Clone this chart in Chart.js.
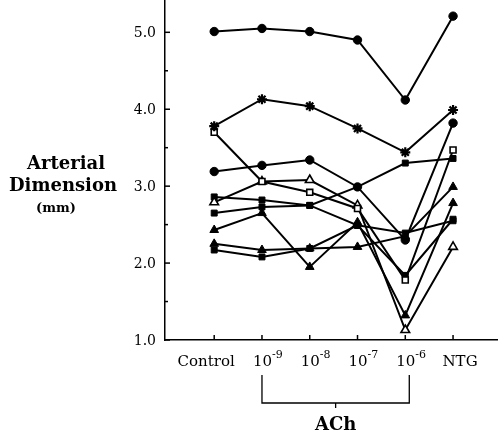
<!DOCTYPE html>
<html>
<head>
<meta charset="utf-8">
<script src="https://cdn.jsdelivr.net/npm/chart.js@4.4.1/dist/chart.umd.min.js"></script>
<style>
  html, body { margin: 0; padding: 0; background: #fff; }
  #wrap { width: 499px; height: 434px; }
</style>
</head>
<body>
<div id="wrap"><canvas id="arterialChart" width="499" height="434"></canvas></div>
<script>
// categories along the x axis (label text + optional superscript)
const categories = ['Control', '10', '10', '10', '10', 'NTG'];
const categorySup = ['', '-9', '-8', '-7', '-6', ''];
const yTicks = [1.0, 2.0, 3.0, 4.0, 5.0];
const yMinorTicks = [1.5, 2.5, 3.5, 4.5];

// arterial dimension (mm), one array per vessel
const vesselA = [5.01, 5.05, 5.01, 4.90, 4.12, 5.21];
const vesselB = [3.78, 4.13, 4.04, 3.75, 3.44, 3.99];
const vesselC = [3.19, 3.27, 3.34, 2.99, 2.30, 3.82];
const vesselD = [3.70, 3.06, 2.92, 2.71, 1.78, 3.47];
const vesselE = [2.79, 3.06, 3.08, 2.75, 1.13, 2.21];
const vesselF = [2.86, 2.82, 2.75, 2.99, 3.30, 3.36];
const vesselG = [2.65, 2.73, 2.75, 2.49, 1.84, 2.57];
const vesselH = [2.43, 2.65, 1.95, 2.53, 1.32, 2.78];
const vesselI = [2.25, 2.17, 2.19, 2.21, 2.35, 2.99];
const vesselJ = [2.17, 2.08, 2.19, 2.49, 2.39, 2.55];

const FONT = "'DejaVu Serif', 'Liberation Serif', serif";

function series(values, style, open) {
    return {
        data: values.map((v, i) => ({ x: i, y: v })),
        borderColor: '#000',
        borderWidth: 2,
        pointStyle: style,
        pointRadius: style === 'star' ? 5 : (style === 'triangle' ? 5 : 4.2),
        pointBorderColor: '#000',
        pointBorderWidth: style === 'star' ? 2.2 : (open ? 1.6 : 1),
        pointBackgroundColor: open ? '#fff' : '#000',
        tension: 0,
        clip: false
    };
}

const axisDecorations = {
    id: 'axisDecorations',
    afterDraw(chart) {
        const { ctx, scales } = chart;
        const xs = scales.x, ys = scales.y;
        const axisX = xs.left, axisY = ys.bottom;
        ctx.save();
        ctx.strokeStyle = '#000';
        ctx.fillStyle = '#000';
        ctx.lineWidth = 1.5;

        // y ticks (inward) and labels
        ctx.font = '14px ' + FONT;
        ctx.textAlign = 'right';
        ctx.textBaseline = 'middle';
        yTicks.forEach(t => {
            const y = ys.getPixelForValue(t);
            ctx.beginPath();
            ctx.moveTo(axisX, y);
            ctx.lineTo(axisX + 5, y);
            ctx.stroke();
            ctx.fillText(t.toFixed(1), axisX - 9, y + 1);
        });
        yMinorTicks.forEach(t => {
            const y = ys.getPixelForValue(t);
            ctx.beginPath();
            ctx.moveTo(axisX, y);
            ctx.lineTo(axisX + 3, y);
            ctx.stroke();
        });

        // x ticks (inward) and labels
        categories.forEach((c, i) => {
            const x = xs.getPixelForValue(i);
            ctx.beginPath();
            ctx.moveTo(x, axisY);
            ctx.lineTo(x, axisY - 5);
            ctx.stroke();

            const sup = categorySup[i];
            ctx.textBaseline = 'alphabetic';
            if (!sup) {
                ctx.font = '15px ' + FONT;
                ctx.textAlign = 'center';
                const shift = c === 'Control' ? -8 : 7;
                ctx.fillText(c, x + shift, 366);
            } else {
                ctx.font = '15px ' + FONT;
                ctx.textAlign = 'right';
                ctx.fillText(c, x + 10, 366);
                ctx.font = '11px ' + FONT;
                ctx.textAlign = 'left';
                ctx.fillText(sup, x + 10, 358);
            }
        });

        // ACh bracket
        const bx1 = xs.getPixelForValue(1), bx2 = xs.getPixelForValue(4) + 4;
        const bMid = (bx1 + bx2) / 2;
        ctx.lineWidth = 1.3;
        ctx.beginPath();
        ctx.moveTo(bx1, 375);
        ctx.lineTo(bx1, 403);
        ctx.lineTo(bx2, 403);
        ctx.lineTo(bx2, 375);
        ctx.moveTo(bMid, 403);
        ctx.lineTo(bMid, 408);
        ctx.stroke();
        ctx.font = 'bold 18px ' + FONT;
        ctx.textAlign = 'center';
        ctx.fillText('ACh', bMid, 430);

        // y axis title
        ctx.font = 'bold 18px ' + FONT;
        ctx.fillText('Arterial', 66, 169);
        ctx.fillText('Dimension', 63, 191);
        ctx.font = 'bold 13px ' + FONT;
        ctx.fillText('(mm)', 56, 212);
        ctx.restore();
    }
};

new Chart(document.getElementById('arterialChart'), {
    type: 'line',
    data: {
        datasets: [
            series(vesselA, 'circle', false),
            series(vesselB, 'star', false),
            series(vesselC, 'circle', false),
            series(vesselD, 'rect', true),
            series(vesselE, 'triangle', true),
            series(vesselF, 'rect', false),
            series(vesselG, 'rect', false),
            series(vesselH, 'triangle', false),
            series(vesselI, 'triangle', false),
            series(vesselJ, 'rect', false)
        ]
    },
    options: {
        responsive: false,
        animation: false,
        devicePixelRatio: 1,
        layout: { autoPadding: false, padding: { left: 165, right: 2, top: 0, bottom: 94 } },
        scales: {
            x: {
                type: 'linear',
                min: -1.03,
                max: 5.92,
                ticks: { display: false },
                grid: { display: false, drawTicks: false },
                border: { display: true, color: '#000', width: 1.5 }
            },
            y: {
                type: 'linear',
                min: 1.0,
                max: 5.42,
                ticks: { display: false },
                grid: { display: false, drawTicks: false },
                border: { display: true, color: '#000', width: 1.5 }
            }
        },
        plugins: {
            legend: { display: false },
            tooltip: { enabled: false }
        }
    },
    plugins: [axisDecorations]
});
</script>
</body>
</html>
